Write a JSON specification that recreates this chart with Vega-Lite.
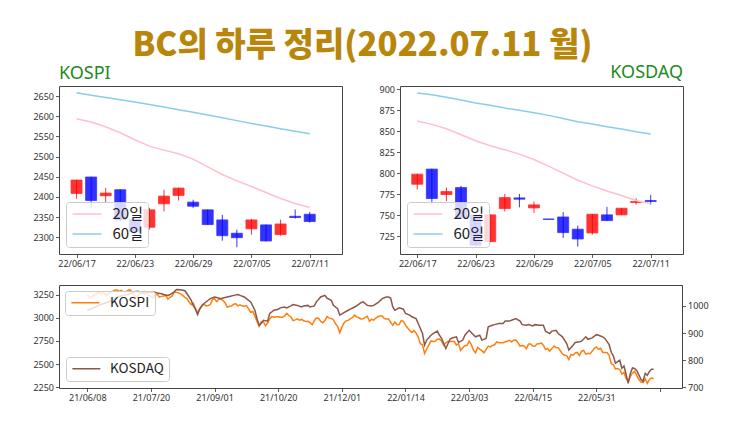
{
  "$schema": "https://vega.github.io/schema/vega-lite/v6.json",
  "background": "white",
  "padding": {"left": 32, "top": 29, "right": 5, "bottom": 5},
  "spacing": 15,
  "title": {"text": "BC의 하루 정리(2022.07.11 월)", "font": "Noto Sans CJK KR", "fontSize": 33, "fontWeight": 900, "color": "#B8860B", "anchor": "middle", "offset": 3, "dx": -8, "dy": 2},
  "config": {
    "view": {"stroke": "#444444", "strokeWidth": 1},
    "axis": {"labelFont": "Noto Sans", "labelFontSize": 9, "labelColor": "#333333", "tickColor": "#333333", "tickSize": 3.5, "tickWidth": 0.8, "domain": false, "grid": false, "labelPadding": 2, "title": null, "labelFlush": false, "labelOverlap": false},
    "legend": {"title": null, "fillColor": "rgba(255,255,255,0.8)", "strokeColor": "#cccccc", "cornerRadius": 3, "symbolStrokeWidth": 1.5, "symbolType": "M-3,0H3", "labelColor": "#222222", "labelFont": "Noto Sans CJK KR"}
  },
  "resolve": {"scale": {"color": "independent"}, "legend": {"color": "independent"}},
  "datasets": {
    "kospi": [
      {"i":0,"open":2408.6,"high":2442.5,"low":2395.4,"close":2441.8,"ma20":2593.7,"ma60":2658.3},
      {"i":1,"open":2449.3,"high":2450,"low":2373,"close":2391.2,"ma20":2585.4,"ma60":2652},
      {"i":2,"open":2402.8,"high":2421.9,"low":2387,"close":2409.5,"ma20":2573.9,"ma60":2646.5},
      {"i":3,"open":2417.8,"high":2418.6,"low":2340,"close":2343.1,"ma20":2559,"ma60":2641},
      {"i":4,"open":2345,"high":2350,"low":2306,"close":2314,"ma20":2541.6,"ma60":2635},
      {"i":5,"open":2324.9,"high":2373,"low":2319,"close":2368,"ma20":2525.9,"ma60":2629},
      {"i":6,"open":2383,"high":2417.8,"low":2363.9,"close":2402,"ma20":2516,"ma60":2622.5},
      {"i":7,"open":2403.7,"high":2423,"low":2391,"close":2421.9,"ma20":2506.8,"ma60":2616},
      {"i":8,"open":2387,"high":2393,"low":2373,"close":2377,"ma20":2493.6,"ma60":2610},
      {"i":9,"open":2368,"high":2369,"low":2331,"close":2331.5,"ma20":2474.6,"ma60":2603},
      {"i":10,"open":2343,"high":2355.6,"low":2291.7,"close":2304,"ma20":2455.6,"ma60":2596},
      {"i":11,"open":2310,"high":2319,"low":2275,"close":2299,"ma20":2439.8,"ma60":2589},
      {"i":12,"open":2321,"high":2345.6,"low":2306.6,"close":2343,"ma20":2425.8,"ma60":2582},
      {"i":13,"open":2330.7,"high":2331.5,"low":2290,"close":2290.9,"ma20":2410.9,"ma60":2575.5},
      {"i":14,"open":2306.6,"high":2344,"low":2304,"close":2333,"ma20":2396,"ma60":2569},
      {"i":15,"open":2352,"high":2369,"low":2346.4,"close":2349,"ma20":2383.6,"ma60":2562.5},
      {"i":16,"open":2357,"high":2363,"low":2336.5,"close":2339,"ma20":2373.6,"ma60":2556.5}
    ],
    "kosdaq": [
      {"i":0,"open":787,"high":799.5,"low":780.7,"close":799,"ma20":862.2,"ma60":895.6},
      {"i":1,"open":805,"high":805.5,"low":762.8,"close":770,"ma20":858.3,"ma60":893.7},
      {"i":2,"open":774.7,"high":783,"low":767,"close":778.3,"ma20":853.1,"ma60":890.5},
      {"i":3,"open":783,"high":785,"low":746,"close":747,"ma20":846,"ma60":887.3},
      {"i":4,"open":750,"high":751,"low":713,"close":714.4,"ma20":838.8,"ma60":883.7},
      {"i":5,"open":718.6,"high":751,"low":718,"close":750.5,"ma20":832.8,"ma60":881},
      {"i":6,"open":758,"high":775.5,"low":754.4,"close":771.1,"ma20":828,"ma60":877.7},
      {"i":7,"open":770.7,"high":775.5,"low":759.6,"close":769.2,"ma20":822.9,"ma60":875},
      {"i":8,"open":758.8,"high":766.4,"low":752.8,"close":762.4,"ma20":816.5,"ma60":872.2},
      {"i":9,"open":745.6,"high":745.6,"low":745,"close":745.2,"ma20":808.5,"ma60":869},
      {"i":10,"open":748,"high":754,"low":723,"close":729.4,"ma20":800.2,"ma60":865.4},
      {"i":11,"open":733.4,"high":737.7,"low":712.7,"close":721.8,"ma20":791.8,"ma60":861.4},
      {"i":12,"open":729,"high":751.5,"low":727,"close":751.3,"ma20":785,"ma60":858.7},
      {"i":13,"open":750.5,"high":760,"low":743.5,"close":743.7,"ma20":779,"ma60":855.5},
      {"i":14,"open":750.5,"high":758.6,"low":750.3,"close":758.4,"ma20":773.5,"ma60":852.7},
      {"i":15,"open":765.2,"high":770.3,"low":762.8,"close":766.4,"ma20":767.6,"ma60":849.5},
      {"i":16,"open":767.6,"high":774.3,"low":762.8,"close":766.4,"ma20":763.6,"ma60":846.7}
    ],
    "kospiLine": [
      {"i":0,"v":3247.8},{"i":1,"v":3216.2},{"i":2,"v":3224.2},{"i":3,"v":3249.3},{"i":4,"v":3252.1},{"i":5,"v":3278.7},{"i":6,"v":3264.9},{"i":7,"v":3264.4},{"i":8,"v":3267.9},{"i":9,"v":3240.1},
      {"i":10,"v":3263.9},{"i":11,"v":3276.2},{"i":12,"v":3286.1},{"i":13,"v":3302.8},{"i":14,"v":3301.9},{"i":15,"v":3286.2},{"i":16,"v":3296.7},{"i":17,"v":3282.1},{"i":18,"v":3281.8},{"i":19,"v":3293.2},
      {"i":20,"v":3305.2},{"i":21,"v":3285.3},{"i":22,"v":3252.7},{"i":23,"v":3217.9},{"i":24,"v":3246.5},{"i":25,"v":3271.4},{"i":26,"v":3264.8},{"i":27,"v":3286.2},{"i":28,"v":3276.9},{"i":29,"v":3244.0},
      {"i":30,"v":3232.7},{"i":31,"v":3215.9},{"i":32,"v":3250.2},{"i":33,"v":3254.4},{"i":34,"v":3224.0},{"i":35,"v":3232.7},{"i":36,"v":3236.9},{"i":37,"v":3242.7},{"i":38,"v":3202.3},{"i":39,"v":3223.0},
      {"i":40,"v":3237.1},{"i":41,"v":3280.4},{"i":42,"v":3276.1},{"i":43,"v":3270.4},{"i":44,"v":3260.4},{"i":45,"v":3243.2},{"i":46,"v":3220.6},{"i":47,"v":3208.4},{"i":48,"v":3171.3},{"i":49,"v":3143.1},
      {"i":50,"v":3158.9},{"i":51,"v":3097.8},{"i":52,"v":3060.5},{"i":53,"v":3090.2},{"i":54,"v":3138.3},{"i":55,"v":3148.3},{"i":56,"v":3128.5},{"i":57,"v":3133.9},{"i":58,"v":3144.2},{"i":59,"v":3199.3},
      {"i":60,"v":3207.0},{"i":61,"v":3175.9},{"i":62,"v":3201.1},{"i":63,"v":3203.3},{"i":64,"v":3187.4},{"i":65,"v":3162.3},{"i":66,"v":3114.7},{"i":67,"v":3125.8},{"i":68,"v":3127.9},{"i":69,"v":3148.8},
      {"i":70,"v":3153.4},{"i":71,"v":3130.1},{"i":72,"v":3140.5},{"i":73,"v":3127.6},{"i":74,"v":3125.2},{"i":75,"v":3133.6},{"i":76,"v":3097.9},{"i":77,"v":3060.3},{"i":78,"v":3068.8},{"i":79,"v":3019.2},
      {"i":80,"v":2962.2},{"i":81,"v":2908.3},{"i":82,"v":2959.5},{"i":83,"v":2956.3},{"i":84,"v":2916.4},{"i":85,"v":2944.4},{"i":86,"v":2988.6},{"i":87,"v":3015.1},{"i":88,"v":3006.7},{"i":89,"v":3013.1},
      {"i":90,"v":3013.2},{"i":91,"v":3007.3},{"i":92,"v":3006.2},{"i":93,"v":3020.5},{"i":94,"v":3049.1},{"i":95,"v":3025.5},{"i":96,"v":3009.6},{"i":97,"v":2970.7},{"i":98,"v":2978.9},{"i":99,"v":2989.0},
      {"i":100,"v":2975.7},{"i":101,"v":2983.2},{"i":102,"v":2969.3},{"i":103,"v":2960.2},{"i":104,"v":2962.5},{"i":105,"v":2949.3},{"i":106,"v":2924.9},{"i":107,"v":2968.8},{"i":108,"v":2999.5},{"i":109,"v":2997.2},
      {"i":110,"v":2962.4},{"i":111,"v":2947.4},{"i":112,"v":2971.0},{"i":113,"v":3013.2},{"i":114,"v":2997.3},{"i":115,"v":2994.3},{"i":116,"v":2980.3},{"i":117,"v":2936.4},{"i":118,"v":2909.3},{"i":119,"v":2839.0},
      {"i":120,"v":2899.7},{"i":121,"v":2945.3},{"i":122,"v":2968.3},{"i":123,"v":2973.1},{"i":124,"v":2991.7},{"i":125,"v":3001.8},{"i":126,"v":3029.6},{"i":127,"v":3010.2},{"i":128,"v":3001.6},{"i":129,"v":2987.9},
      {"i":130,"v":2989.4},{"i":131,"v":3006.4},{"i":132,"v":3017.7},{"i":133,"v":2963.0},{"i":134,"v":2984.4},{"i":135,"v":2975.0},{"i":136,"v":2998.3},{"i":137,"v":3012.4},{"i":138,"v":3020.2},{"i":139,"v":3020.2},
      {"i":140,"v":2993.3},{"i":141,"v":2988.8},{"i":142,"v":2989.2},{"i":143,"v":2953.0},{"i":144,"v":2920.5},{"i":145,"v":2954.9},{"i":146,"v":2926.7},{"i":147,"v":2927.4},{"i":148,"v":2972.5},{"i":149,"v":2962.1},
      {"i":150,"v":2921.9},{"i":151,"v":2890.1},{"i":152,"v":2864.2},{"i":153,"v":2842.3},{"i":154,"v":2862.7},{"i":155,"v":2834.3},{"i":156,"v":2792.0},{"i":157,"v":2720.4},{"i":158,"v":2709.2},{"i":159,"v":2614.4},
      {"i":160,"v":2663.3},{"i":161,"v":2707.8},{"i":162,"v":2750.3},{"i":163,"v":2745.1},{"i":164,"v":2746.5},{"i":165,"v":2768.9},{"i":166,"v":2771.9},{"i":167,"v":2747.7},{"i":168,"v":2704.5},{"i":169,"v":2729.7},
      {"i":170,"v":2744.1},{"i":171,"v":2744.5},{"i":172,"v":2744.9},{"i":173,"v":2743.8},{"i":174,"v":2706.8},{"i":175,"v":2719.5},{"i":176,"v":2648.8},{"i":177,"v":2676.8},{"i":178,"v":2699.2},{"i":179,"v":2703.5},
      {"i":180,"v":2747.1},{"i":181,"v":2713.4},{"i":182,"v":2651.3},{"i":183,"v":2622.4},{"i":184,"v":2680.3},{"i":185,"v":2661.3},{"i":186,"v":2645.7},{"i":187,"v":2621.5},{"i":188,"v":2659.2},{"i":189,"v":2694.5},
      {"i":190,"v":2686.1},{"i":191,"v":2702.1},{"i":192,"v":2709.2},{"i":193,"v":2741.1},{"i":194,"v":2731.6},{"i":195,"v":2729.9},{"i":196,"v":2729.7},{"i":197,"v":2741.9},{"i":198,"v":2746.7},{"i":199,"v":2757.7},
      {"i":200,"v":2739.9},{"i":201,"v":2757.9},{"i":202,"v":2759.2},{"i":203,"v":2735.0},{"i":204,"v":2695.0},{"i":205,"v":2700.4},{"i":206,"v":2693.2},{"i":207,"v":2666.8},{"i":208,"v":2716.7},{"i":209,"v":2716.5},
      {"i":210,"v":2696.1},{"i":211,"v":2693.2},{"i":212,"v":2718.7},{"i":213,"v":2718.9},{"i":214,"v":2728.2},{"i":215,"v":2704.7},{"i":216,"v":2657.1},{"i":217,"v":2668.3},{"i":218,"v":2639.1},{"i":219,"v":2667.5},
      {"i":220,"v":2695.1},{"i":221,"v":2680.5},{"i":222,"v":2677.6},{"i":223,"v":2644.5},{"i":224,"v":2610.8},{"i":225,"v":2596.6},{"i":226,"v":2592.3},{"i":227,"v":2550.1},{"i":228,"v":2604.2},{"i":229,"v":2596.6},
      {"i":230,"v":2620.4},{"i":231,"v":2625.9},{"i":232,"v":2592.3},{"i":233,"v":2639.3},{"i":234,"v":2647.4},{"i":235,"v":2605.9},{"i":236,"v":2617.2},{"i":237,"v":2612.5},{"i":238,"v":2638.1},{"i":239,"v":2669.7},
      {"i":240,"v":2685.9},{"i":241,"v":2658.9},{"i":242,"v":2670.7},{"i":243,"v":2626.2},{"i":244,"v":2626.1},{"i":245,"v":2625.4},{"i":246,"v":2595.9},{"i":247,"v":2504.5},{"i":248,"v":2492.9},{"i":249,"v":2447.4},
      {"i":250,"v":2451.4},{"i":251,"v":2440.9},{"i":252,"v":2391.0},{"i":253,"v":2408.9},{"i":254,"v":2342.8},{"i":255,"v":2314.3},{"i":256,"v":2366.6},{"i":257,"v":2401.9},{"i":258,"v":2422.1},{"i":259,"v":2377.9},
      {"i":260,"v":2332.6},{"i":261,"v":2305.4},{"i":262,"v":2300.3},{"i":263,"v":2341.8},{"i":264,"v":2292.0},{"i":265,"v":2334.3},{"i":266,"v":2350.6},{"i":267,"v":2340.3}
    ],
    "kosdaqLine": [
      {"i":0,"v":984},{"i":2,"v":990},{"i":3,"v":993},{"i":5,"v":1000},{"i":6,"v":1005},{"i":8,"v":1009},{"i":9,"v":1012},{"i":11,"v":1017},{"i":13,"v":1025},{"i":14,"v":1033},
      {"i":16,"v":1037},{"i":17,"v":1039},{"i":19,"v":1042},{"i":20,"v":1045},{"i":22,"v":1052},{"i":24,"v":1054},{"i":25,"v":1049},{"i":27,"v":1045},{"i":28,"v":1052},{"i":30,"v":1049},
      {"i":31,"v":1052},{"i":33,"v":1048},{"i":35,"v":1045},{"i":36,"v":1042},{"i":38,"v":1039},{"i":39,"v":1042},{"i":41,"v":1052},{"i":42,"v":1061},{"i":44,"v":1060},{"i":46,"v":1056},
      {"i":47,"v":1045},{"i":49,"v":1021},{"i":50,"v":1000},{"i":51,"v":988},{"i":52,"v":968},{"i":53,"v":990},{"i":55,"v":1009},{"i":57,"v":1021},{"i":58,"v":1027},{"i":60,"v":1033},
      {"i":61,"v":1031},{"i":63,"v":1027},{"i":64,"v":1029},{"i":66,"v":1033},{"i":68,"v":1037},{"i":69,"v":1039},{"i":71,"v":1042},{"i":72,"v":1039},{"i":74,"v":1033},{"i":75,"v":1027},
      {"i":77,"v":1015},{"i":79,"v":984},{"i":80,"v":953},{"i":81,"v":929},{"i":82,"v":935},{"i":83,"v":947},{"i":85,"v":944},{"i":86,"v":972},{"i":88,"v":984},{"i":90,"v":988},
      {"i":91,"v":993},{"i":93,"v":996},{"i":94,"v":993},{"i":96,"v":1000},{"i":97,"v":1005},{"i":99,"v":1002},{"i":101,"v":996},{"i":102,"v":1000},{"i":104,"v":1002},{"i":105,"v":996},
      {"i":107,"v":1000},{"i":108,"v":1015},{"i":110,"v":1033},{"i":112,"v":1039},{"i":113,"v":1029},{"i":115,"v":1021},{"i":116,"v":1002},{"i":118,"v":990},{"i":119,"v":966},{"i":121,"v":975},
      {"i":123,"v":984},{"i":124,"v":988},{"i":126,"v":996},{"i":127,"v":1000},{"i":129,"v":1012},{"i":130,"v":1015},{"i":132,"v":1002},{"i":134,"v":1000},{"i":135,"v":1002},{"i":137,"v":1012},
      {"i":139,"v":1027},{"i":141,"v":1033},{"i":142,"v":1033},{"i":143,"v":1029},{"i":144,"v":996},{"i":145,"v":984},{"i":147,"v":993},{"i":149,"v":988},{"i":150,"v":972},{"i":152,"v":966},
      {"i":153,"v":960},{"i":155,"v":953},{"i":156,"v":935},{"i":158,"v":898},{"i":159,"v":855},{"i":160,"v":874},{"i":162,"v":892},{"i":163,"v":898},{"i":165,"v":907},{"i":166,"v":892},
      {"i":167,"v":880},{"i":169,"v":843},{"i":171,"v":877},{"i":172,"v":882},{"i":174,"v":886},{"i":175,"v":865},{"i":177,"v":874},{"i":178,"v":892},{"i":180,"v":910},{"i":182,"v":894},
      {"i":183,"v":886},{"i":185,"v":892},{"i":186,"v":874},{"i":188,"v":880},{"i":189,"v":923},{"i":191,"v":929},{"i":192,"v":931},{"i":194,"v":935},{"i":196,"v":935},{"i":197,"v":944},
      {"i":199,"v":944},{"i":200,"v":947},{"i":202,"v":953},{"i":204,"v":944},{"i":205,"v":931},{"i":207,"v":929},{"i":208,"v":931},{"i":210,"v":926},{"i":211,"v":931},{"i":213,"v":929},
      {"i":215,"v":929},{"i":216,"v":907},{"i":218,"v":898},{"i":219,"v":907},{"i":221,"v":910},{"i":222,"v":898},{"i":224,"v":886},{"i":226,"v":861},{"i":227,"v":837},{"i":229,"v":855},
      {"i":230,"v":865},{"i":232,"v":868},{"i":233,"v":870},{"i":235,"v":886},{"i":236,"v":877},{"i":238,"v":882},{"i":240,"v":894},{"i":241,"v":892},{"i":243,"v":886},{"i":244,"v":880},
      {"i":246,"v":857},{"i":247,"v":828.8},{"i":248,"v":815.2},{"i":249,"v":788.5},{"i":250,"v":794.6},{"i":251,"v":799.4},{"i":252,"v":770},{"i":253,"v":778},{"i":254,"v":747},{"i":255,"v":714.4},
      {"i":256,"v":750.3},{"i":257,"v":771},{"i":258,"v":769},{"i":259,"v":762},{"i":260,"v":745.4},{"i":261,"v":729.5},{"i":262,"v":721.8},{"i":263,"v":751.3},{"i":264,"v":743.7},{"i":265,"v":758.4},
      {"i":266,"v":766.1},{"i":267,"v":766.4}
    ]
  },
  "vconcat": [
    {
      "spacing": 35,
      "resolve": {"scale": {"color": "independent"}, "legend": {"color": "independent"}},
      "hconcat": [
        {
          "width": 283, "height": 168,
          "title": {"text": "KOSPI", "anchor": "start", "frame": "group", "color": "#228B22", "font": "Noto Sans", "fontSize": 18, "fontWeight": "normal", "offset": 3},
          "data": {"name": "kospi"},
          "encoding": {
            "x": {"field": "i", "type": "quantitative", "scale": {"domain": [-0.86, 17.87], "nice": false, "zero": false},
                  "axis": {"values": [0, 4, 8, 12, 16], "labelOverlap": false, "labelExpr": "datum.value == 0 ? '22/06/17' : datum.value == 4 ? '22/06/23' : datum.value == 8 ? '22/06/29' : datum.value == 12 ? '22/07/05' : '22/07/11'"}}
          },
          "layer": [
            {"mark": {"type": "rule", "strokeWidth": 1, "opacity": 0.8},
             "encoding": {
               "y": {"field": "low", "type": "quantitative", "scale": {"domain": [2258.6, 2674.8], "nice": false, "zero": false}, "axis": {"values": [2300, 2350, 2400, 2450, 2500, 2550, 2600, 2650], "format": "d", "labelOverlap": false}},
               "y2": {"field": "high"},
               "color": {"condition": {"test": "datum.close > datum.open", "value": "red"}, "value": "blue"}}},
            {"mark": {"type": "bar", "size": 11, "opacity": 0.8, "strokeWidth": 0.8},
             "encoding": {
               "y": {"field": "open", "type": "quantitative", "axis": {"values": [2300, 2350, 2400, 2450, 2500, 2550, 2600, 2650], "format": "d", "labelOverlap": false}},
               "y2": {"field": "close"},
               "color": {"condition": {"test": "datum.close > datum.open", "value": "red"}, "value": "blue"},
               "stroke": {"condition": {"test": "datum.close > datum.open", "value": "red"}, "value": "blue"}}},
            {"mark": {"type": "line", "strokeWidth": 1.5},
             "encoding": {
               "y": {"field": "ma20", "type": "quantitative", "axis": {"values": [2300, 2350, 2400, 2450, 2500, 2550, 2600, 2650], "format": "d", "labelOverlap": false}},
               "color": {"datum": "20일", "type": "nominal", "scale": {"domain": ["20일", "60일"], "range": ["#FFC0CB", "#87CEEB"]},
                         "legend": {"orient": "bottom-left", "offset": 7, "padding": 4.5, "labelFontSize": 15, "symbolSize": 93.4, "symbolOffset": 9, "labelOffset": 18, "rowPadding": 4}}}},
            {"mark": {"type": "line", "strokeWidth": 1.5},
             "encoding": {
               "y": {"field": "ma60", "type": "quantitative", "axis": {"values": [2300, 2350, 2400, 2450, 2500, 2550, 2600, 2650], "format": "d", "labelOverlap": false}},
               "color": {"datum": "60일", "type": "nominal"}}}
          ]
        },
        {
          "width": 283, "height": 168,
          "title": {"text": "KOSDAQ", "anchor": "end", "frame": "group", "color": "#228B22", "font": "Noto Sans", "fontSize": 18, "fontWeight": "normal", "offset": 3},
          "data": {"name": "kosdaq"},
          "encoding": {
            "x": {"field": "i", "type": "quantitative", "scale": {"domain": [-0.84, 17.87], "nice": false, "zero": false},
                  "axis": {"values": [0, 4, 8, 12, 16], "labelOverlap": false, "labelExpr": "datum.value == 0 ? '22/06/17' : datum.value == 4 ? '22/06/23' : datum.value == 8 ? '22/06/29' : datum.value == 12 ? '22/07/05' : '22/07/11'"}}
          },
          "layer": [
            {"mark": {"type": "rule", "strokeWidth": 1, "opacity": 0.8},
             "encoding": {
               "y": {"field": "low", "type": "quantitative", "scale": {"domain": [703.9, 904], "nice": false, "zero": false}, "axis": {"values": [725, 750, 775, 800, 825, 850, 875, 900], "format": "d", "labelOverlap": false}},
               "y2": {"field": "high"},
               "color": {"condition": {"test": "datum.close > datum.open", "value": "red"}, "value": "blue"}}},
            {"mark": {"type": "bar", "size": 11, "opacity": 0.8, "strokeWidth": 0.8},
             "encoding": {
               "y": {"field": "open", "type": "quantitative", "axis": {"values": [725, 750, 775, 800, 825, 850, 875, 900], "format": "d", "labelOverlap": false}},
               "y2": {"field": "close"},
               "color": {"condition": {"test": "datum.close > datum.open", "value": "red"}, "value": "blue"},
               "stroke": {"condition": {"test": "datum.close > datum.open", "value": "red"}, "value": "blue"}}},
            {"mark": {"type": "line", "strokeWidth": 1.5},
             "encoding": {
               "y": {"field": "ma20", "type": "quantitative", "axis": {"values": [725, 750, 775, 800, 825, 850, 875, 900], "format": "d", "labelOverlap": false}},
               "color": {"datum": "20일", "type": "nominal", "scale": {"domain": ["20일", "60일"], "range": ["#FFC0CB", "#87CEEB"]},
                         "legend": {"orient": "bottom-left", "offset": 7, "padding": 4.5, "labelFontSize": 15, "symbolSize": 93.4, "symbolOffset": 9, "labelOffset": 18, "rowPadding": 4}}}},
            {"mark": {"type": "line", "strokeWidth": 1.5},
             "encoding": {
               "y": {"field": "ma60", "type": "quantitative", "axis": {"values": [725, 750, 775, 800, 825, 850, 875, 900], "format": "d", "labelOverlap": false}},
               "color": {"datum": "60일", "type": "nominal"}}}
          ]
        }
      ]
    },
    {
      "width": 623, "height": 103,
      "layer": [
        {"data": {"name": "kospiLine"},
         "mark": {"type": "line", "strokeWidth": 1.5},
         "encoding": {
           "x": {"field": "i", "type": "quantitative", "scale": {"domain": [-13.35, 280.35], "nice": false, "zero": false},
                 "axis": {"values": [0, 30, 60, 90, 120, 150, 180, 210, 240, 270], "labelOverlap": false, "labelExpr": "datum.value == 0 ? '21/06/08' : datum.value == 30 ? '21/07/20' : datum.value == 60 ? '21/09/01' : datum.value == 90 ? '21/10/20' : datum.value == 120 ? '21/12/01' : datum.value == 150 ? '22/01/14' : datum.value == 180 ? '22/03/03' : datum.value == 210 ? '22/04/15' : datum.value == 240 ? '22/05/31' : ''"}},
           "y": {"field": "v", "type": "quantitative", "scale": {"domain": [2241.35, 3355.87], "nice": false, "zero": false}, "axis": {"orient": "left", "values": [2250, 2500, 2750, 3000, 3250], "format": "d", "labelOverlap": false}},
           "color": {"datum": "KOSPI", "type": "nominal", "scale": {"range": ["#FF7F0E"]},
                     "legend": {"orient": "top-left", "offset": 6, "padding": 5, "labelFontSize": 13.5, "symbolSize": 87, "symbolOffset": 8.6, "labelOffset": 18}}}},
        {"data": {"name": "kosdaqLine"},
         "mark": {"type": "line", "strokeWidth": 1.5},
         "encoding": {
           "x": {"field": "i", "type": "quantitative"},
           "y": {"field": "v", "type": "quantitative", "scale": {"domain": [697.1, 1077.3], "nice": false, "zero": false}, "axis": {"orient": "right", "values": [700, 800, 900, 1000], "format": "d", "labelOverlap": false}},
           "color": {"datum": "KOSDAQ", "type": "nominal", "scale": {"range": ["#8C564B"]},
                     "legend": {"orient": "bottom-left", "offset": 7, "padding": 5, "labelFontSize": 13.5, "symbolSize": 87, "symbolOffset": 8.6, "labelOffset": 17}}}}
      ],
      "resolve": {"scale": {"y": "independent", "color": "independent"}, "legend": {"color": "independent"}}
    }
  ]
}
